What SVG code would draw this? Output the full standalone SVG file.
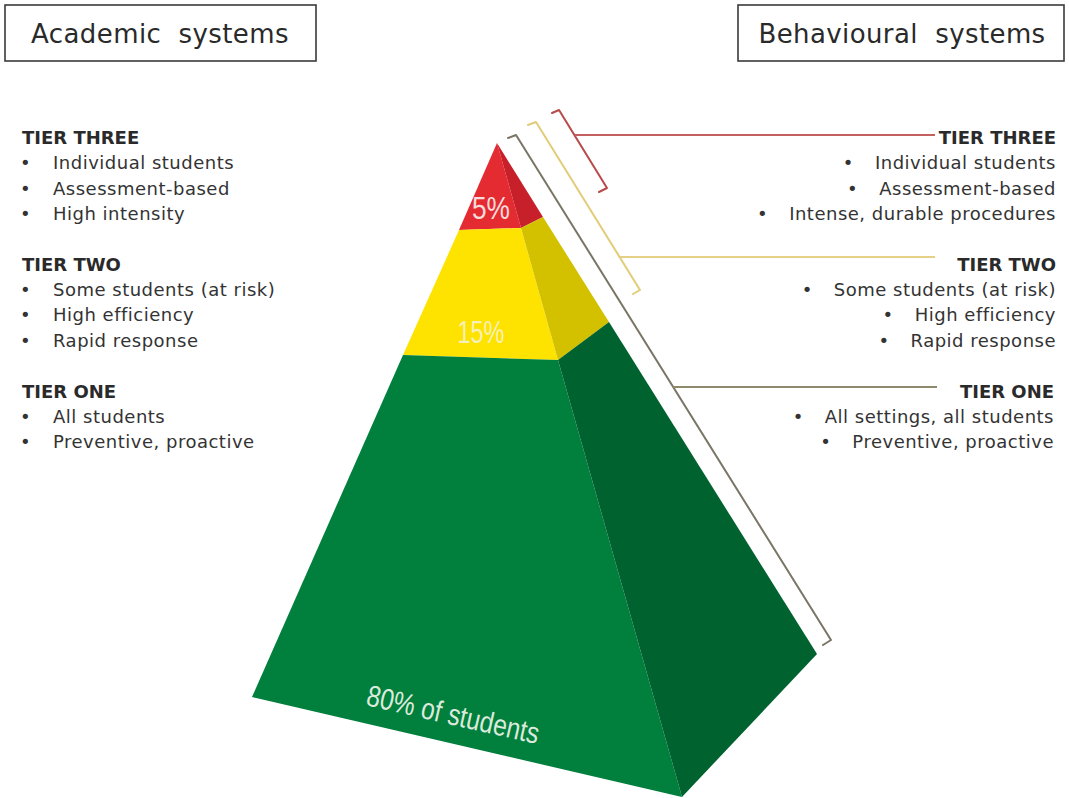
<svg xmlns="http://www.w3.org/2000/svg" width="1069" height="798" viewBox="0 0 1069 798">
<style>
.title{font-family:'DejaVu Sans',Verdana,sans-serif;font-size:26px;fill:#2a2a2a;letter-spacing:0.4px}
.box{fill:#fff;stroke:#3a3a3a;stroke-width:1.6}
.hd{font-family:'DejaVu Sans',Verdana,sans-serif;font-size:18px;font-weight:bold;fill:#2a2a2a}
.tx{font-family:'DejaVu Sans',Verdana,sans-serif;font-size:18px;fill:#333;letter-spacing:0.5px}
.pct{font-family:'Liberation Sans',Arial,sans-serif;}
.br{fill:none;stroke-width:2;stroke-linejoin:round;stroke-linecap:round}
</style>
<rect width="1069" height="798" fill="#fff"/>

<g id="title-academic">
<rect class="box" x="5" y="5" width="311" height="56"/>
<text class="title" x="160" y="43" text-anchor="middle">Academic&#160; systems</text>
</g>
<g id="title-behavioural">
<rect class="box" x="738" y="5" width="326" height="56"/>
<text class="title" x="902" y="43" text-anchor="middle">Behavioural&#160; systems</text>
</g>

<g id="pyramid">
<g id="tier3-band">
<polygon points="497,143 459,230 521,228" fill="#E42B32"/>
<polygon points="497,143 521,228 543,217" fill="#C8202A"/>
<text class="pct" x="491" y="219" text-anchor="middle" font-size="31" textLength="38" lengthAdjust="spacingAndGlyphs" fill="#F6DCDC">5%</text>
</g>
<g id="tier2-band">
<polygon points="459,230 521,228 558,360 403,355" fill="#FFE300"/>
<polygon points="521,228 543,217 609,322 558,360" fill="#D3C100"/>
<text class="pct" x="481" y="343" text-anchor="middle" font-size="32" textLength="47" lengthAdjust="spacingAndGlyphs" fill="#F6F0B8">15%</text>
</g>
<g id="tier1-band">
<polygon points="403,355 558,360 682,797 252,697" fill="#007F3D"/>
<polygon points="558,360 609,322 817,654 682,797" fill="#00622F"/>
<text class="pct" transform="translate(365,705) rotate(12.8)" x="0" y="0" font-size="30" textLength="176" lengthAdjust="spacingAndGlyphs" fill="#DCEADC">80% of students</text>
</g>
</g>

<g id="connectors">
<path class="br" d="M552,113 L559,110 L607,188 L599,192" stroke="#B94A4A"/>
<line x1="575" y1="135" x2="935" y2="135" stroke="#C46060" stroke-width="2"/>
<path class="br" d="M528,125 L536,122 L640,290 L633,294" stroke="#E2CC78"/>
<line x1="620" y1="257" x2="935" y2="257" stroke="#E6D087" stroke-width="2"/>
<path class="br" d="M508,138 L516,135 L831,640 L823,645" stroke="#7A7565"/>
<line x1="673" y1="387" x2="937" y2="387" stroke="#8C8A6A" stroke-width="2"/>
</g>

<g id="academic-tier3">
<text class="hd" x="22" y="144">TIER THREE</text>
<text class="tx" y="169"><tspan x="20">•</tspan><tspan x="53">Individual students</tspan></text>
<text class="tx" y="195"><tspan x="20">•</tspan><tspan x="53">Assessment-based</tspan></text>
<text class="tx" y="220"><tspan x="20">•</tspan><tspan x="53">High intensity</tspan></text>
</g>
<g id="academic-tier2">
<text class="hd" x="22" y="271">TIER TWO</text>
<text class="tx" y="296"><tspan x="20">•</tspan><tspan x="53">Some students (at risk)</tspan></text>
<text class="tx" y="321"><tspan x="20">•</tspan><tspan x="53">High efficiency</tspan></text>
<text class="tx" y="347"><tspan x="20">•</tspan><tspan x="53">Rapid response</tspan></text>
</g>
<g id="academic-tier1">
<text class="hd" x="22" y="398">TIER ONE</text>
<text class="tx" y="423"><tspan x="20">•</tspan><tspan x="53">All students</tspan></text>
<text class="tx" y="448"><tspan x="20">•</tspan><tspan x="53">Preventive, proactive</tspan></text>
</g>

<g id="behavioural-tier3">
<text class="hd" x="1056" y="144" text-anchor="end">TIER THREE</text>
<text class="tx" x="1056" y="169" text-anchor="end">•<tspan dx="21">Individual students</tspan></text>
<text class="tx" x="1056" y="195" text-anchor="end">•<tspan dx="21">Assessment-based</tspan></text>
<text class="tx" x="1056" y="220" text-anchor="end">•<tspan dx="21">Intense, durable procedures</tspan></text>
</g>
<g id="behavioural-tier2">
<text class="hd" x="1056" y="271" text-anchor="end">TIER TWO</text>
<text class="tx" x="1056" y="296" text-anchor="end">•<tspan dx="21">Some students (at risk)</tspan></text>
<text class="tx" x="1056" y="321" text-anchor="end">•<tspan dx="21">High efficiency</tspan></text>
<text class="tx" x="1056" y="347" text-anchor="end">•<tspan dx="21">Rapid response</tspan></text>
</g>
<g id="behavioural-tier1">
<text class="hd" x="1054" y="398" text-anchor="end">TIER ONE</text>
<text class="tx" x="1054" y="423" text-anchor="end">•<tspan dx="21">All settings, all students</tspan></text>
<text class="tx" x="1054" y="448" text-anchor="end">•<tspan dx="21">Preventive, proactive</tspan></text>
</g>
</svg>
